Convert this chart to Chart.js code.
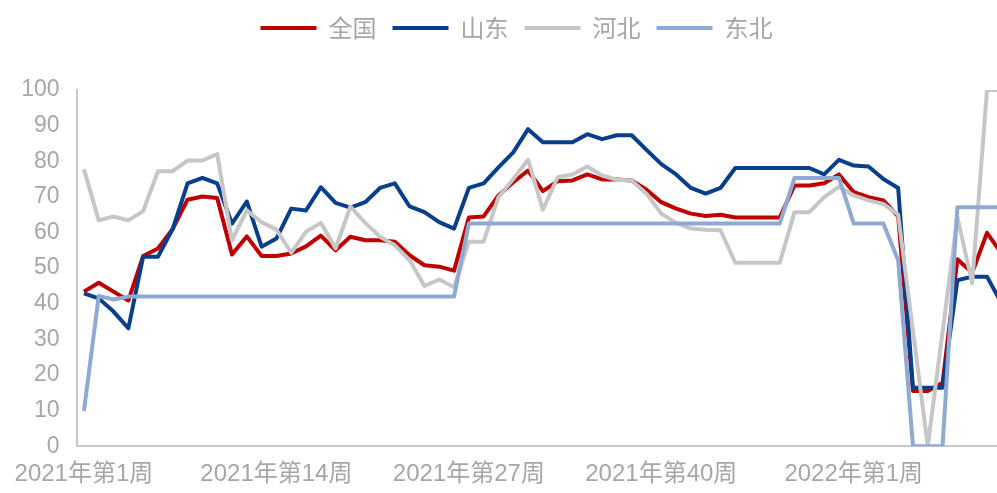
<!DOCTYPE html>
<html>
<head>
<meta charset="utf-8">
<script src="https://cdn.jsdelivr.net/npm/chart.js@4.4.1/dist/chart.umd.min.js"></script>
<style>
  html, body { margin: 0; padding: 0; background: #fff; overflow: hidden; }
  #wrap { width: 1033px; height: 493px; }
</style>
</head>
<body>
<div id="wrap"><canvas id="chart"></canvas></div>
<script>
// 周度数据 2021年第1周 - 2022年
const weeks = [];
for (let w = 1; w <= 52; w++) weeks.push("2021年第" + w + "周");
for (let w = 1; w <= 12; w++) weeks.push("2022年第" + w + "周");

const seriesNames = ["全国", "山东", "河北", "东北"];

const quanguo = [
  43.4, 45.9, 43.4, 40.9, 53.4, 55.5, 61, 69.2, 70.1, 69.7,
  53.8, 58.9, 53.4, 53.4, 54.1, 56.1, 59.1, 55, 58.8, 57.8,
  57.8, 57.4, 53.6, 50.8, 50.4, 49.3, 64.2, 64.5, 70.4, 74.1,
  77.4, 71.6, 74.4, 74.6, 76.3, 74.9, 74.9, 74.6, 72, 68.5,
  66.7, 65.3, 64.6, 65, 64.2, 64.2, 64.2, 64.2, 73.2, 73.2,
  73.8, 76.3, 71.3, 69.9, 69, 64.5, 15.5, 15.5, 17.8, 52.5,
  48.7, 59.9, 54
];

const shandong = [
  42.9, 41.5, 37.8, 33.1, 53.2, 53.2, 61, 73.8, 75.3, 73.8,
  62.5, 68.7, 56, 58.3, 66.7, 66.2, 72.7, 68.3, 67, 68.5,
  72.5, 73.8, 67.3, 65.7, 62.9, 61.1, 72.5, 73.8, 78.3, 82.5,
  89, 85.3, 85.3, 85.3, 87.6, 86.2, 87.3, 87.3, 83.2, 79.2,
  76.3, 72.5, 70.9, 72.5, 78.1, 78.1, 78.1, 78.1, 78.1, 78.1,
  76.3, 80.4, 78.8, 78.5, 75, 72.5, 16.4, 16.4, 16.4, 46.6,
  47.6, 47.6, 40
];

const hebei = [
  77.8, 63.4, 64.5, 63.4, 66, 77.2, 77.2, 80.2, 80.2, 82,
  57.8, 66.2, 62.9, 60.8, 54.3, 60.2, 62.7, 55.5, 67.3, 62.7,
  58.8, 56.4, 52.2, 45, 46.8, 44.6, 57.4, 57.4, 69.9, 75,
  80.4, 66.4, 75.5, 76.3, 78.5, 76, 74.8, 74.6, 70.9, 65.3,
  62.7, 61.1, 60.8, 60.6, 51.5, 51.5, 51.5, 51.5, 65.7, 65.7,
  69.9, 72.9, 70.4, 69, 68, 65, null, 0, null, 64.3,
  45.7, 100, 100
];

const dongbei = [
  9.9, 42.2, 41.2, 42, 42, 42, 42, 42, 42, 42,
  42, 42, 42, 42, 42, 42, 42, 42, 42, 42,
  42, 42, 42, 42, 42, 42, 62.5, 62.5, 62.5, 62.5,
  62.5, 62.5, 62.5, 62.5, 62.5, 62.5, 62.5, 62.5, 62.5, 62.5,
  62.5, 62.5, 62.5, 62.5, 62.5, 62.5, 62.5, 62.5, 75.3, 75.3,
  75.3, 75.3, 62.5, 62.5, 62.5, 52.2, 0, 0, 0, 67.1,
  67.1, 67.1, 67.1
];

const colors = ["#C00000", "#073F8C", "#C6C6C6", "#8EA9D3"];
const textColor = "#a6a6a6";

// 图例和图表之间留空
const legendGap = {
  id: "legendGap",
  afterInit(chart) {
    const fit = chart.legend.fit;
    chart.legend.fit = function () {
      fit.call(this);
      this.height += 40;
    };
  },
};

function makeSet(i, data) {
  return {
    label: seriesNames[i],
    data: data,
    borderColor: colors[i],
    backgroundColor: colors[i],
    borderWidth: 4,
    pointRadius: 0,
    tension: 0,
    spanGaps: true,
    borderJoinStyle: "round",
    order: 4 - i,
  };
}

new Chart(document.getElementById("chart"), {
  type: "line",
  data: {
    labels: weeks,
    datasets: [
      makeSet(0, quanguo),
      makeSet(1, shandong),
      makeSet(2, hebei),
      makeSet(3, dongbei),
    ],
  },
  options: {
    responsive: true,
    maintainAspectRatio: false,
    animation: false,
    devicePixelRatio: 1,
    layout: { padding: { left: 9, right: 9, top: 0, bottom: -10 } },
    plugins: {
      tooltip: { enabled: false },
      legend: {
        position: "top",
        labels: {
          usePointStyle: true,
          pointStyle: "line",
          pointStyleWidth: 56,
          padding: 16,
          color: textColor,
          font: { family: "'Noto Sans CJK SC'", size: 24 },
          sort: (a, b) => a.datasetIndex - b.datasetIndex,
        },
      },
    },
    scales: {
      x: {
        offset: true,
        grid: { display: false, drawTicks: false },
        border: { display: true, color: "#c8c8c8", width: 2 },
        ticks: {
          autoSkip: false,
          maxRotation: 0,
          minRotation: 0,
          padding: 14,
          color: textColor,
          font: { family: "'Liberation Sans', 'Noto Sans CJK SC'", size: 24 },
          callback: function (val, idx) {
            return idx % 13 === 0 && idx <= 52 ? this.getLabelForValue(val) : "";
          },
        },
      },
      y: {
        min: 0,
        max: 100,
        grid: { display: false, drawTicks: false },
        border: { display: true, color: "#c8c8c8", width: 2 },
        ticks: {
          stepSize: 10,
          padding: 17,
          color: textColor,
          font: { family: "'Liberation Sans'", size: 23 },
        },
        afterFit: (scale) => {
          scale.width = 64;
        },
      },
    },
  },
  plugins: [legendGap],
});
</script>
</body>
</html>
